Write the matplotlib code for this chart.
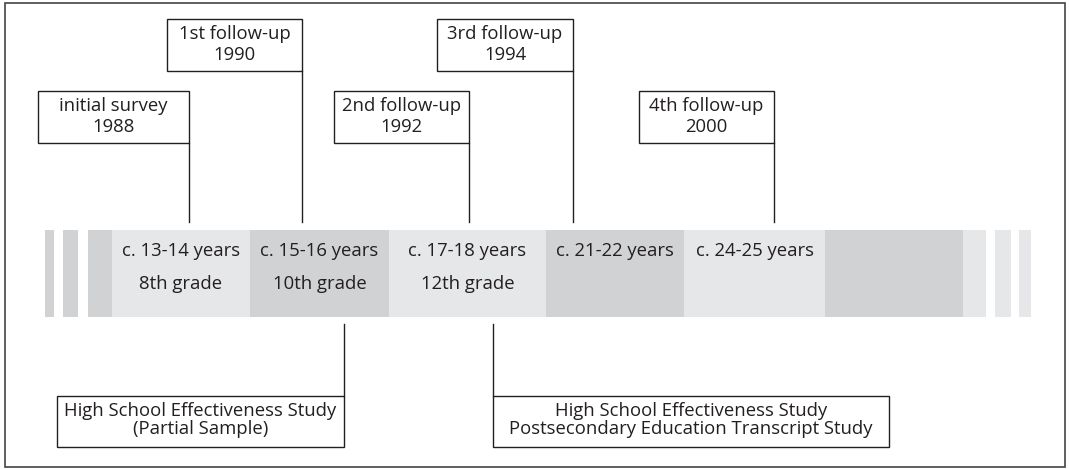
import matplotlib
matplotlib.use("Agg")
import matplotlib.pyplot as plt
from matplotlib.patches import Rectangle

plt.rcParams['font.family'] = ['Open Sans', 'DejaVu Sans']

# the band: segment edges and shade (canvas is laid out in pixels)
seg_left = [45, 63, 88, 112, 250, 389, 546, 684, 825, 963, 995, 1019]
seg_right = [54, 78, 112, 250, 389, 546, 684, 825, 963, 986, 1011, 1031]
seg_shade = ['mid', 'mid', 'mid', 'light', 'mid', 'light', 'mid', 'light', 'mid', 'light', 'light', 'light']

# ages / grades shown in segments 3..7
ages = ['c. 13-14 years', 'c. 15-16 years', 'c. 17-18 years', 'c. 21-22 years', 'c. 24-25 years']
grades = ['8th grade', '10th grade', '12th grade', '', '']

# survey waves above the band
waves = ['initial survey', '1st follow-up', '2nd follow-up', '3rd follow-up', '4th follow-up']
years = ['1988', '1990', '1992', '1994', '2000']
wave_x = [189, 302, 469, 573, 774]
wave_left = [38, 167, 334, 437, 639]
wave_high = [False, True, False, True, False]

# studies below the band
studies = ['High School Effectiveness Study\n(Partial Sample)',
           'High School Effectiveness Study\nPostsecondary Education Transcript Study']
study_x = [344, 493]
study_box = [(57, 344), (493, 889)]

shades = {'light': '#e6e7e8', 'mid': '#d1d2d4'}
ink = '#231f20'
fs = 13.3

fig = plt.figure(figsize=(10.69, 4.69), dpi=100)
ax = fig.add_axes([0, 0, 1, 1])
ax.set_xlim(0, 1069)
ax.set_ylim(469, 0)
ax.axis('off')

# outer frame
ax.add_patch(Rectangle((5, 3), 1060, 464, fill=False, edgecolor='#444444', lw=1.2))

band_top, band_bot = 230, 317
ax.bar(seg_left, band_bot - band_top, width=[r - l for l, r in zip(seg_left, seg_right)],
       bottom=band_top, align='edge', color=[shades[s] for s in seg_shade], lw=0)

for i, (a, g) in enumerate(zip(ages, grades)):
    k = i + 3
    cx = (seg_left[k] + seg_right[k]) / 2
    ax.text(cx, 251, a, ha='center', va='center', fontsize=fs, color=ink)
    if g:
        ax.text(cx, 284, g, ha='center', va='center', fontsize=fs, color=ink)

# wave boxes
for name, yr, x, left, high in zip(waves, years, wave_x, wave_left, wave_high):
    top = 19 if high else 91
    bot = top + 52
    ax.add_patch(Rectangle((left, top), x - left, bot - top, fill=False, edgecolor=ink, lw=1.0))
    ax.plot([x, x], [bot, 222], color=ink, lw=1.0)
    ax.text((left + x) / 2, top + 25.5, name + '\n' + yr, ha='center', va='center',
            fontsize=fs, color=ink, linespacing=1.2)

# study boxes
for txt, x, (l, r) in zip(studies, study_x, study_box):
    ax.add_patch(Rectangle((l, 396), r - l, 51, fill=False, edgecolor=ink, lw=1.0))
    ax.plot([x, x], [324, 396], color=ink, lw=1.0)
    ax.text((l + r) / 2, 420, txt, ha='center', va='center', fontsize=fs, color=ink,
            linespacing=0.95)

fig.savefig('out.png', dpi=100)
